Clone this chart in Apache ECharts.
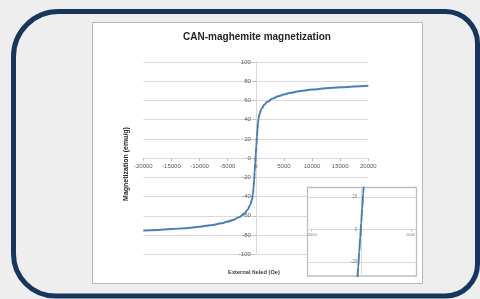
<!DOCTYPE html>
<html>
<head>
<meta charset="utf-8">
<script src="https://cdn.jsdelivr.net/npm/echarts@6/dist/echarts.min.js"></script>
<style>
html,body{margin:0;padding:0;background:#eeeeee;}
#chart{width:480px;height:299px;}
</style>
</head>
<body>
<div id="chart"></div>
<script>
// ---- data ----
const titleText = 'CAN-maghemite magnetization';
const xAxisName = 'External fieled (Oe)';
const yAxisName = 'Magnetization (emu/g)';
const fieldOe = [-20000, -17500, -15000, -12500, -10000, -8000, -6000, -5000, -4000, -3000, -2000, -1500, -1000, -700, -500, -400, -300, -200, -100, 0, 100, 200, 300, 400, 500, 700, 1000, 1500, 2000, 3000, 4000, 5000, 6000, 8000, 10000, 12500, 15000, 17500, 20000];
const magnetization = [-75.3, -74.6, -73.8, -72.8, -71.3, -69.8, -67.6, -66.0, -64.2, -61.5, -57.5, -54.0, -49.0, -43.5, -37.0, -31.0, -23.0, -14.0, -5.0, 4.0, 13.0, 22.0, 30.0, 37.0, 41.5, 46.5, 51.0, 55.5, 58.5, 62.0, 64.5, 66.3, 67.7, 69.8, 71.3, 72.7, 73.7, 74.5, 75.2];
const mainXTicks = { min: -20000, max: 20000, interval: 5000 };
const mainYTicks = { min: -100, max: 100, interval: 20 };
const insetXTickValues = [-5000, 0, 5000];
const insetYTickValues = [-20, 0, 20];
const insetXRange = [-5400, 5600];
const insetYRange = [-28.7, 25.6];

const points = fieldOe.map((h, i) => [h, magnetization[i]]);

const FONT = '"Liberation Sans", Arial, sans-serif';
const lineBlue = '#4a7ebb';
const gridGray = '#d9d9d9';
const labelGray = '#595959';
const plain = v => String(v);

// layout of the two plot areas
const W = 480, H = 299;
const mainBox = { left: 143.3, right: 368.3, top: 62, bottom: 254.3 };
const insetBox = { left: 307.7, right: 416.7, top: 187.7, bottom: 276 };
// distance of the zero lines from the plot edges, derived from the axis ranges
function zeroFrac(min, max) { return (0 - min) / (max - min); }
const mainZeroFromLeft = (mainBox.right - mainBox.left) * zeroFrac(mainXTicks.min, mainXTicks.max);
const mainZeroFromBottom = (mainBox.bottom - mainBox.top) * zeroFrac(mainYTicks.min, mainYTicks.max);
const insetZeroFromLeft = (insetBox.right - insetBox.left) * zeroFrac(insetXRange[0], insetXRange[1]);
const insetZeroFromBottom = (insetBox.bottom - insetBox.top) * zeroFrac(insetYRange[0], insetYRange[1]);

const chart = echarts.init(document.getElementById('chart'), null, { renderer: 'canvas' });

const option = {
  backgroundColor: '#eeeeee',
  animation: false,
  graphic: [
    { type: 'rect', z: 1, shape: { x: 13.5, y: 11.5, width: 464, height: 284.5, r: [45, 32, 32, 42] },
      style: { fill: '#eeeeee', stroke: '#17365d', lineWidth: 5 } },
    { type: 'rect', z: 1, shape: { x: 92.5, y: 22.5, width: 330, height: 261 },
      style: { fill: '#ffffff', stroke: '#b8b8b8', lineWidth: 1 } },
    { type: 'text', z: 2, x: 257, y: 37,
      style: { text: titleText, fill: '#262626', font: 'bold 10px ' + FONT, textAlign: 'center', textVerticalAlign: 'middle' } },
    { type: 'text', z: 2, x: 126, y: 164, rotation: Math.PI / 2,
      style: { text: yAxisName, fill: '#262626', font: 'bold 7px ' + FONT, textAlign: 'center', textVerticalAlign: 'middle' } },
    { type: 'text', z: 2, x: 254, y: 272,
      style: { text: xAxisName, fill: '#404040', font: 'bold 5.7px ' + FONT, textAlign: 'center', textVerticalAlign: 'middle' } },
    { type: 'rect', z: 5, shape: { x: 307.5, y: 187.5, width: 109, height: 88.5 },
      style: { fill: '#ffffff', stroke: '#bfbfbf', lineWidth: 1.3 } }
  ],
  grid: [
    { left: mainBox.left, right: W - mainBox.right, top: mainBox.top, bottom: H - mainBox.bottom },
    { left: insetBox.left, right: W - insetBox.right, top: insetBox.top, bottom: H - insetBox.bottom }
  ],
  xAxis: [
    {
      gridIndex: 0, type: 'value', z: 3, position: 'bottom', offset: -mainZeroFromBottom,
      min: mainXTicks.min, max: mainXTicks.max, interval: mainXTicks.interval,
      axisLine: { onZero: false, lineStyle: { color: gridGray, width: 1 } },
      axisTick: { show: true, length: 3, lineStyle: { color: '#bfbfbf' } },
      axisLabel: { margin: 5, fontSize: 6, fontFamily: FONT, color: labelGray, formatter: plain },
      splitLine: { show: false }
    },
    {
      gridIndex: 1, type: 'value', z: 6, position: 'bottom', offset: -insetZeroFromBottom,
      min: insetXRange[0], max: insetXRange[1],
      axisLine: { onZero: false, lineStyle: { color: gridGray, width: 1 } },
      axisTick: { show: true, length: 2, customValues: insetXTickValues, lineStyle: { color: '#bfbfbf' } },
      axisLabel: { margin: 4, fontSize: 4, fontFamily: FONT, color: '#7f7f7f', customValues: insetXTickValues, formatter: plain },
      splitLine: { show: false }
    }
  ],
  yAxis: [
    {
      gridIndex: 0, type: 'value', z: 3, position: 'left', offset: -mainZeroFromLeft,
      min: mainYTicks.min, max: mainYTicks.max, interval: mainYTicks.interval,
      axisLine: { show: true, onZero: false, lineStyle: { color: gridGray, width: 1 } },
      axisTick: { show: true, length: 3, lineStyle: { color: '#bfbfbf' } },
      axisLabel: { margin: 5, fontSize: 6, fontFamily: FONT, color: labelGray, formatter: plain },
      splitLine: { show: true, lineStyle: { color: gridGray, width: 1 } }
    },
    {
      gridIndex: 1, type: 'value', z: 6, position: 'left', offset: -insetZeroFromLeft,
      min: insetYRange[0], max: insetYRange[1],
      axisLine: { show: true, onZero: false, lineStyle: { color: gridGray, width: 1 } },
      axisTick: { show: false, customValues: insetYTickValues },
      axisLabel: { margin: 4, fontSize: 4.5, fontFamily: FONT, color: '#7f7f7f', customValues: insetYTickValues, formatter: plain },
      splitLine: { show: true, lineStyle: { color: gridGray, width: 1 } }
    }
  ],
  series: [
    {
      type: 'line', xAxisIndex: 0, yAxisIndex: 0, z: 4,
      data: points, showSymbol: false, symbol: 'none',
      smooth: 0.4, smoothMonotone: 'x',
      lineStyle: { color: lineBlue, width: 2 }
    },
    {
      type: 'line', xAxisIndex: 1, yAxisIndex: 1, z: 7,
      data: points, showSymbol: false, symbol: 'none',
      smooth: 0.4, smoothMonotone: 'x', clip: true,
      lineStyle: { color: lineBlue, width: 2 }
    }
  ]
};
chart.setOption(option);
</script>
</body>
</html>
